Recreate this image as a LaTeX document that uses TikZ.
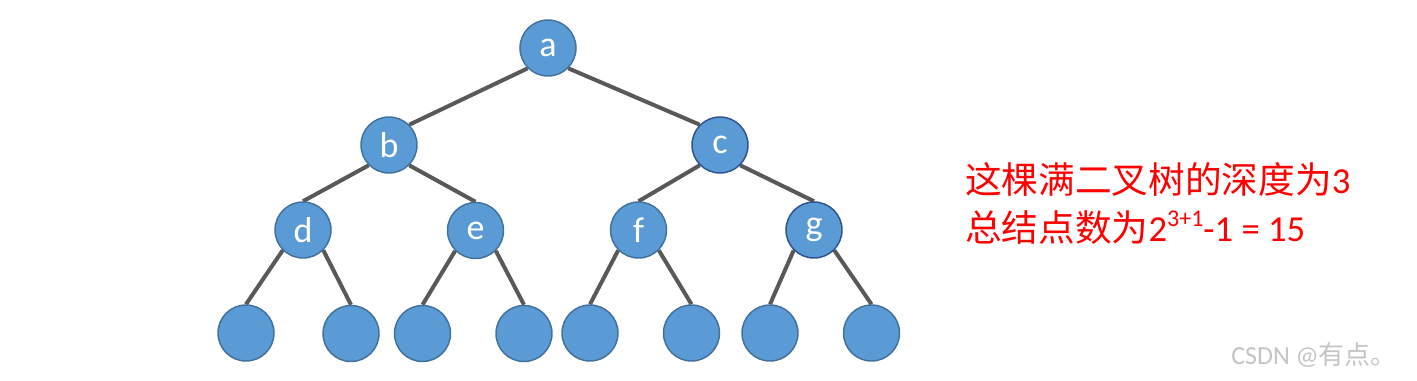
\documentclass[tikz,border=0pt]{standalone}
\usepackage{fontspec}
\setmainfont{Carlito}
\newfontfamily\cjk{Noto Sans CJK SC}
\usetikzlibrary{backgrounds}
\definecolor{nodefill}{HTML}{5B9BD5}
\definecolor{nodeline}{HTML}{41719C}
\definecolor{nodelinedark}{HTML}{2F528F}
\definecolor{edgegray}{HTML}{595959}
\definecolor{wm}{HTML}{C4C4C4}
\tikzset{
  treenode/.style={circle, fill=nodefill, draw=nodeline, line width=1.1pt,
    minimum size=42pt, inner sep=0pt, text=white,
    font=\fontsize{27}{29}\selectfont},
  darknode/.style={treenode, draw=nodelinedark},
  edge/.style={draw=edgegray, line width=3pt},
  redtext/.style={anchor=base west, inner sep=0pt, text=red,
    font=\fontsize{27.5}{30}\selectfont}
}
\begin{document}
\begin{tikzpicture}[x=0.75pt,y=-0.75pt]
\useasboundingbox (0,0) rectangle (1417,380);
\node[treenode] (a) at (548,48) {a};
\node[treenode] (b) at (389,145) {b};
\node[darknode] (c) at (720,145) {c};
\node[treenode] (d) at (303,230) {d};
\node[treenode] (e) at (475.5,230.5) {e};
\node[treenode] (f) at (638.5,230) {f};
\node[darknode] (g) at (814,230) {g};
\node[treenode] (l1) at (246,333) {};
\node[treenode] (l2) at (351,333.5) {};
\node[treenode] (l3) at (422.5,333.5) {};
\node[treenode] (l4) at (524,333.5) {};
\node[treenode] (l5) at (590,333) {};
\node[treenode] (l6) at (691.5,333) {};
\node[treenode] (l7) at (770,333) {};
\node[treenode] (l8) at (871.5,333) {};
\begin{scope}[on background layer]
\draw[edge] (a.south west) -- (b.north east);
\draw[edge] (a.south east) -- (c.north west);
\draw[edge] (b.south west) -- (d.north);
\draw[edge] (b.south east) -- (e.north);
\draw[edge] (c.south west) -- (f.north);
\draw[edge] (c.south east) -- (g.north);
\draw[edge] (d.south west) -- (l1.north);
\draw[edge] (d.south east) -- (l2.north);
\draw[edge] (e.south west) -- (l3.north);
\draw[edge] (e.south east) -- (l4.north);
\draw[edge] (f.south west) -- (l5.north);
\draw[edge] (f.south east) -- (l6.north);
\draw[edge] (g.south west) -- (l7.north);
\draw[edge] (g.south east) -- (l8.north);
\end{scope}
\node[redtext] (t1) at (965,193) {{\cjk 这棵满二叉树的深度为}3};
\node[redtext] (t2) at (965,241) {{\cjk 总结点数为}2\raisebox{0.4em}{\fontsize{18}{20}\selectfont 3+1}-1 = 15};
\node[anchor=base west, inner sep=0pt, text=wm, font=\fontsize{19.5}{22}\selectfont] (wmk) at (1231,364) {CSDN @{\cjk 有点。}};
\end{tikzpicture}
\end{document}
